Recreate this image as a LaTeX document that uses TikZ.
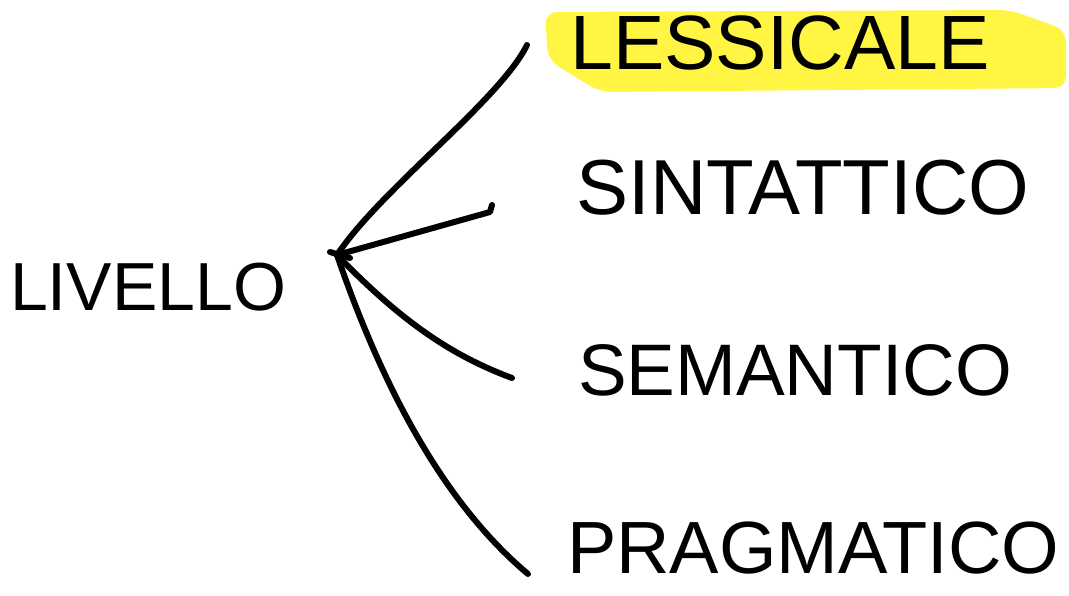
\documentclass[tikz,border=0pt]{standalone}
\usepackage{fontspec}
\setmainfont{Liberation Sans}
\definecolor{hl}{HTML}{FFF542}
\tikzset{
  word/.style={inner sep=0pt, anchor=center, text=black},
  branch/.style={line width=6pt, line cap=round, line join=round, draw=black}
}
\begin{document}
\begin{tikzpicture}[x=1pt,y=-1pt]
\useasboundingbox[fill=white] (0,0) rectangle (1069,596);
% highlight
\fill[hl, rounded corners=12pt] (545,12) -- (1010,10) -- (1066,30) -- (1066,88) -- (600,92) -- (548,60) -- cycle;
\node[word, font=\fontsize{68}{68}\selectfont] (liv) at (148,287) {LIVELLO};
\node[word, font=\fontsize{77}{77}\selectfont] (les) at (780,43) {LESSICALE};
\node[word, font=\fontsize{78}{78}\selectfont] (sin) at (803,188) {SINTATTICO};
\node[word, font=\fontsize{73}{73}\selectfont] (sem) at (795,370) {SEMANTICO};
\node[word, font=\fontsize{74}{74}\selectfont] (pra) at (813,548) {PRAGMATICO};
\coordinate (hub) at (337,255);
\coordinate (e1) at (527,45);
\coordinate (e2) at (492,205);
\coordinate (e3) at (512,378);
\coordinate (e4) at (528,574);
\draw[branch] (hub) .. controls (380,190) and (500,100) .. (e1);
\draw[branch] (hub) -- (490,212) -- (e2);
\draw[branch] (hub) .. controls (400,320) and (450,355) .. (e3);
\draw[branch] (hub) .. controls (380,380) and (440,500) .. (e4);
\draw[branch] (330,252) -- (350,258);
\end{tikzpicture}
\end{document}
